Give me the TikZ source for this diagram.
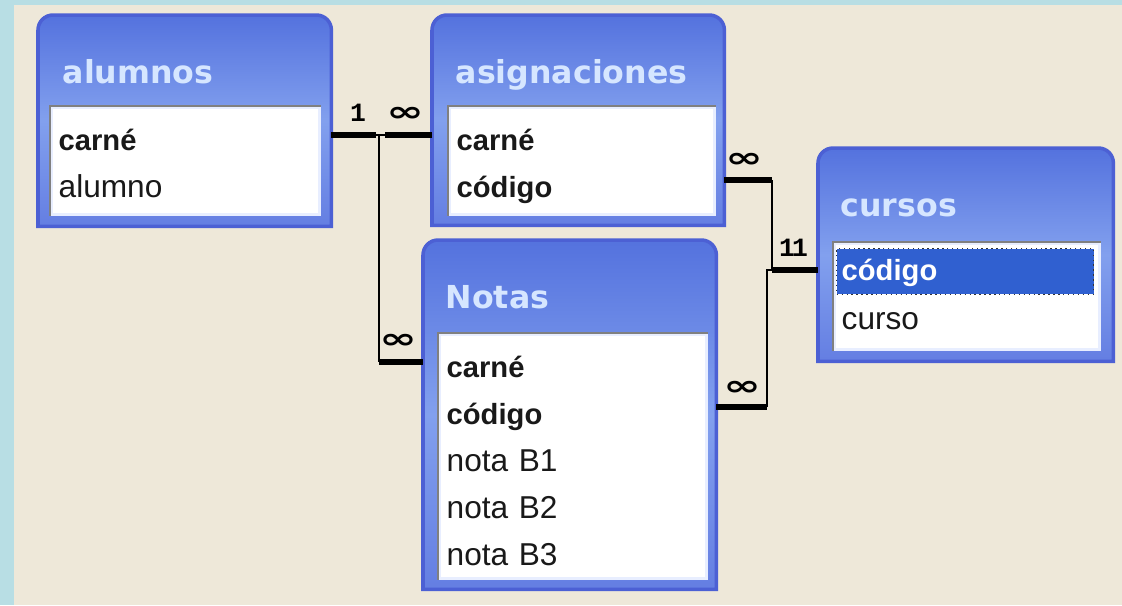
\documentclass[tikz,border=0pt]{standalone}
\usepackage{fontspec}
\setmainfont{Liberation Sans}
\newfontfamily\titlefont{DejaVu Sans}
\newfontfamily\relfont{Liberation Mono}
\usepackage{xcolor}
\definecolor{beige}{RGB}{238,232,217}
\definecolor{skyedge}{RGB}{184,222,228}
\definecolor{frameedge}{RGB}{76,96,212}
\definecolor{frametop}{RGB}{84,114,222}
\definecolor{framemid}{RGB}{130,160,238}
\definecolor{framebot}{RGB}{100,126,226}
\definecolor{titletext}{RGB}{214,230,255}
\definecolor{panelrim}{RGB}{232,238,255}
\definecolor{fieldtext}{RGB}{25,25,25}
\definecolor{selblue}{RGB}{48,96,208}
\usepackage{tikz}
\usetikzlibrary{positioning}
\tikzstyle{tablebox} = [inner sep=0pt]
\tikzstyle{frame} = [draw=frameedge, line width=1pt,
  top color=frametop, bottom color=framebot, middle color=framemid]
\tikzstyle{panel} = [fill=white, draw=panelrim, line width=0.8pt, inner sep=0pt]
\tikzstyle{sunken} = [draw=gray, line width=0.7pt]
\tikzstyle{tabletitle} = [font=\titlefont\bfseries\fontsize{9}{10}\selectfont,
  text=titletext, inner sep=0pt, text height=0.76em, text depth=0.24em]
\tikzstyle{field} = [font=\fontsize{9}{10}\selectfont, text=fieldtext,
  text width=2.47cm, inner xsep=0.05cm, inner ysep=0pt, minimum height=0.455cm,
  text height=0.72em, text depth=0.2em, align=left]
\tikzstyle{keyfield} = [field, font=\bfseries\fontsize{8.3}{10}\selectfont]
\tikzstyle{thickline} = [line width=1.7pt]
\tikzstyle{thinline} = [line width=0.6pt]
\tikzstyle{onelabel} = [font=\relfont\bfseries\fontsize{7.5}{8}\selectfont, inner sep=0pt]
\tikzstyle{manylabel} = [font=\titlefont\bfseries\fontsize{8}{9}\selectfont,
  inner sep=0pt, xscale=1.6, transform shape]

\begin{document}
\begin{tikzpicture}[x=1cm, y=-1cm]
  \useasboundingbox (0,0) rectangle (11.22,6.05);
  \fill[beige] (0,0) rectangle (11.22,6.05);
  \fill[skyedge] (0,0) rectangle (0.14,6.05);
  \fill[skyedge] (0,0) rectangle (11.22,0.045);
  % alumnos
  \node[tablebox, minimum width=2.92cm, minimum height=2.10cm, anchor=north west]
    (alumnos) at (0.38,0.15) {};
  \draw[frame] (alumnos.south west) [rounded corners=0.15cm] -- (alumnos.north west)
    -- (alumnos.north east) [sharp corners] -- (alumnos.south east) -- cycle;
  \node[tabletitle, below right=0.41cm and 0.24cm of alumnos.north west] (aluTitle) {alumnos};
  \node[panel, minimum width=2.68cm, minimum height=1.07cm,
    below right=0.91cm and 0.12cm of alumnos.north west] (aluPanel) {};
  \draw[sunken] (aluPanel.south west) -- (aluPanel.north west) -- (aluPanel.north east);
  \node[keyfield, below right=0.115cm and 0.03cm of aluPanel.north west] (aluCarne) {carné};
  \node[field, below=0pt of aluCarne] (aluAlumno) {alumno};
  % asignaciones
  \node[tablebox, minimum width=2.91cm, minimum height=2.09cm, anchor=north west]
    (asignaciones) at (4.32,0.15) {};
  \draw[frame] (asignaciones.south west) [rounded corners=0.15cm] -- (asignaciones.north west)
    -- (asignaciones.north east) [sharp corners] -- (asignaciones.south east) -- cycle;
  \node[tabletitle, below right=0.41cm and 0.23cm of asignaciones.north west] (asigTitle) {asignaciones};
  \node[panel, minimum width=2.65cm, minimum height=1.07cm,
    below right=0.91cm and 0.16cm of asignaciones.north west] (asigPanel) {};
  \draw[sunken] (asigPanel.south west) -- (asigPanel.north west) -- (asigPanel.north east);
  \node[keyfield, below right=0.115cm and 0.03cm of asigPanel.north west] (asigCarne) {carné};
  \node[keyfield, below=0pt of asigCarne] (asigCodigo) {código};
  % Notas
  \node[tablebox, minimum width=2.92cm, minimum height=3.48cm, anchor=north west]
    (notas) at (4.23,2.40) {};
  \draw[frame] (notas.south west) [rounded corners=0.15cm] -- (notas.north west)
    -- (notas.north east) [sharp corners] -- (notas.south east) -- cycle;
  \node[tabletitle, below right=0.41cm and 0.22cm of notas.north west] (notasTitle) {Notas};
  \node[panel, minimum width=2.67cm, minimum height=2.44cm,
    below right=0.93cm and 0.15cm of notas.north west] (notasPanel) {};
  \draw[sunken] (notasPanel.south west) -- (notasPanel.north west) -- (notasPanel.north east);
  \node[keyfield, below right=0.12cm and 0.03cm of notasPanel.north west] (notasCarne) {carné};
  \node[keyfield, below=0pt of notasCarne] (notasCodigo) {código};
  \node[field, below=0pt of notasCodigo] (notasB1) {nota B1};
  \node[field, below=0pt of notasB1] (notasB2) {nota B2};
  \node[field, below=0pt of notasB2] (notasB3) {nota B3};
  % cursos
  \node[tablebox, minimum width=2.94cm, minimum height=2.12cm, anchor=north west]
    (cursos) at (8.18,1.48) {};
  \draw[frame] (cursos.south west) [rounded corners=0.15cm] -- (cursos.north west)
    -- (cursos.north east) [sharp corners] -- (cursos.south east) -- cycle;
  \node[tabletitle, below right=0.41cm and 0.22cm of cursos.north west] (curTitle) {cursos};
  \node[panel, minimum width=2.65cm, minimum height=1.06cm,
    below right=0.94cm and 0.15cm of cursos.north west] (curPanel) {};
  \draw[sunken] (curPanel.south west) -- (curPanel.north west) -- (curPanel.north east);
  \node[keyfield, fill=selblue, draw=black!80, densely dotted, text=white,
    below right=0.06cm and 0.03cm of curPanel.north west] (curCodigo) {código};
  \node[field, below=0.02cm of curCodigo] (curCurso) {curso};
  % relationship joints
  \coordinate (jAlu) at (3.79,1.35);
  \coordinate (jNotas) at (3.79,3.62);
  \coordinate (jAsig) at (7.72,1.80);
  \coordinate (jCur) at (7.72,2.70);
  \coordinate (jNotas2) at (7.67,4.07);
  % alumnos 1 -- oo asignaciones, Notas
  \draw[thinline] (alumnos.east |- jAlu) -- (asignaciones.west |- jAlu);
  \draw[thinline] (jAlu) -- (jNotas);
  \draw[thickline] (alumnos.east |- jAlu) -- ++(0.45,0);
  \draw[thickline] (asignaciones.west |- jAlu) -- ++(-0.47,0);
  \draw[thickline] (jNotas) -- (notas.west |- jNotas);
  \node[onelabel] (oneAlu) at (3.58,1.13) {1};
  \node[manylabel] (manyAsig) at (4.05,1.14) {∞};
  \node[manylabel] (manyNotas) at (3.98,3.41) {∞};
  % cursos 1 -- oo asignaciones, Notas
  \draw[thickline] (asignaciones.east |- jAsig) -- (jAsig);
  \draw[thinline] (jAsig) -- (jCur);
  \draw[thickline] (jCur) -- (cursos.west |- jCur);
  \draw[thickline] (notas.east |- jNotas2) -- (jNotas2);
  \draw[thinline] (jNotas2) |- (jCur);
  \node[manylabel] (manyAsig2) at (7.44,1.60) {∞};
  \node[onelabel] (oneCur) at (7.87,2.48) {1};
  \node[onelabel] (oneCur2) at (8.00,2.48) {1};
  \node[manylabel] (manyNotas2) at (7.42,3.88) {∞};
\end{tikzpicture}
\end{document}
